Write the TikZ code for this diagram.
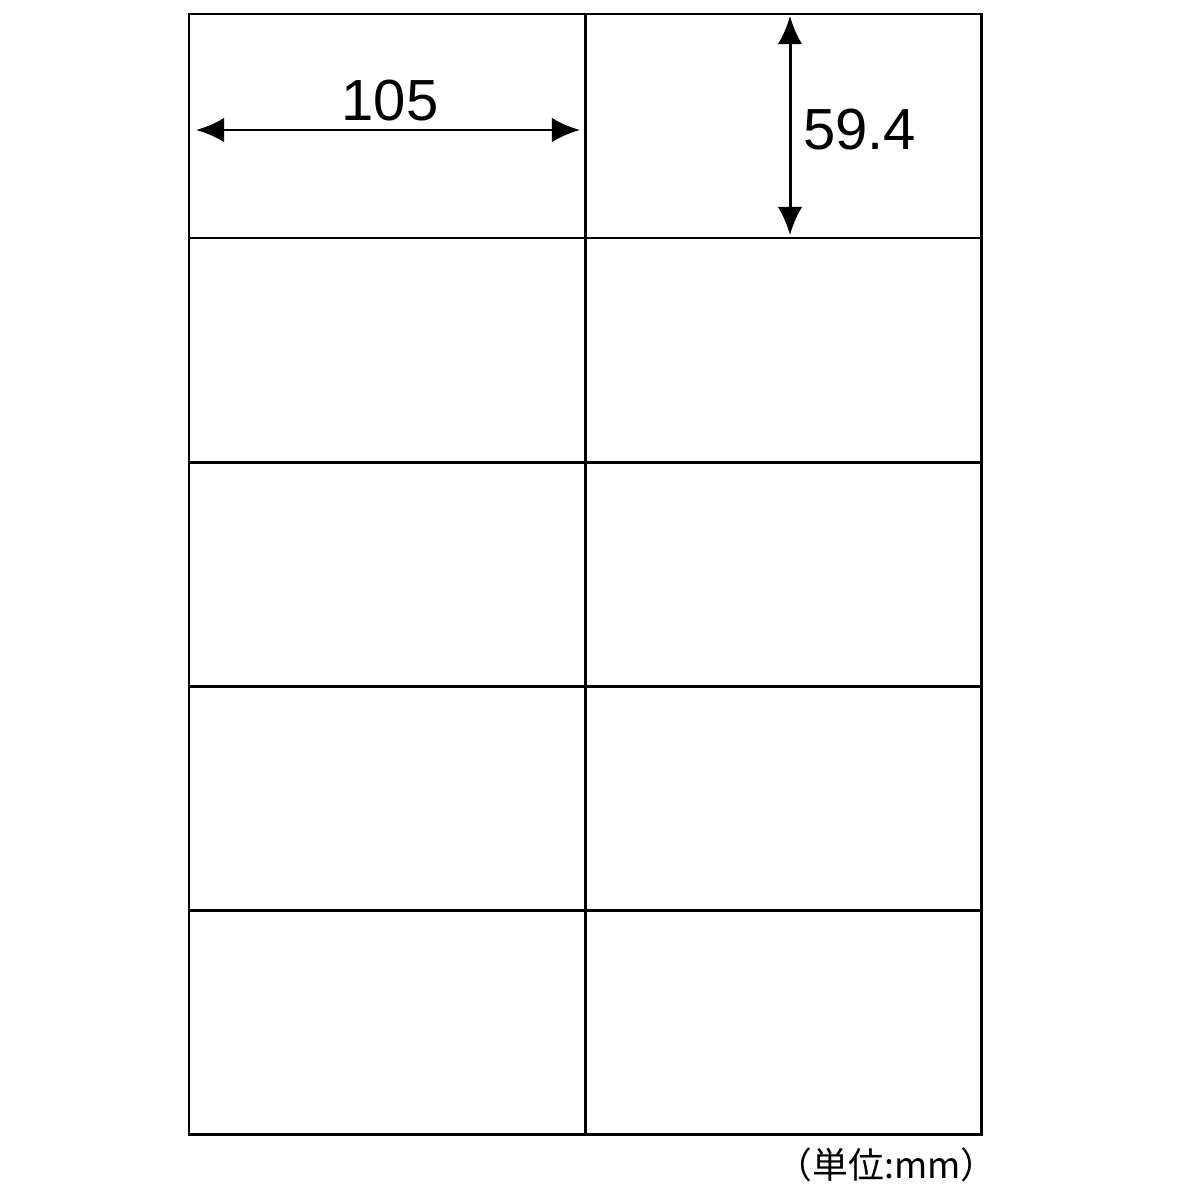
\documentclass[tikz,border=0pt]{standalone}
\usepackage{fontspec}
\setmainfont{Liberation Sans}
\newfontfamily\cjk{Noto Sans CJK JP}
\usetikzlibrary{arrows.meta}

\begin{document}
\begin{tikzpicture}[x=0.01cm, y=-0.01cm, line width=0.85pt]
                        \useasboundingbox (0, 0) rectangle (1200, 1200);
                        % sheet and label cells
                        \draw (189, 14) rectangle (981, 1134);
                        \draw (585, 14) -- (585, 1134);
                        \foreach \y in {238, 462, 686, 910}
                                \draw (189, \y) -- (981, \y);
                        % dimensions
                        \coordinate (wl) at (196, 130);
                        \coordinate (wr) at (580, 130);
                        \coordinate (ht) at (790, 16);
                        \coordinate (hb) at (790, 235);
                        \draw[{Latex[length=8pt, width=7pt]}-{Latex[length=8pt, width=7pt]}] (wl) -- (wr);
                        \draw[{Latex[length=8pt, width=7pt]}-{Latex[length=8pt, width=7pt]}] (ht) -- (hb);
                        \node[font=\fontsize{16.5}{18}\selectfont] (w) at (390, 101){105};
                        \node[font=\fontsize{16.5}{18}\selectfont, anchor=west] (h) at (790, 130){59.4};
                        \node[font=\cjk\fontsize{10.2}{12}\selectfont, anchor=east] (unit) at (1010, 1165){（単位:mm）};
                \end{tikzpicture}
\end{document}
